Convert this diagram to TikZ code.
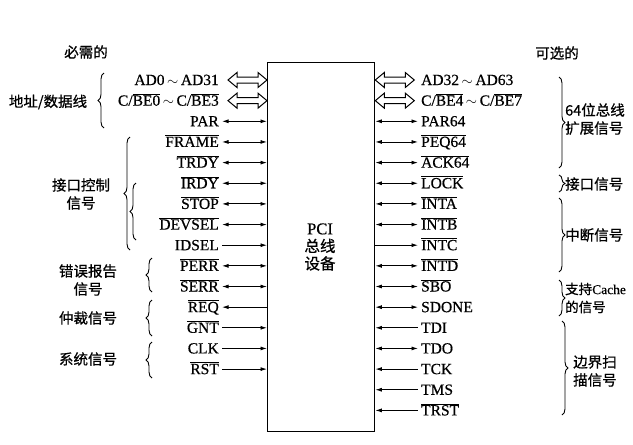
\documentclass[tikz,border=0pt]{standalone}
\usepackage{fontspec}
\setmainfont{Liberation Serif}
\newfontfamily\sigfont{Liberation Serif}[FakeBold=0.5]
\newfontfamily\cjk{Noto Sans CJK SC}[FakeBold=0.8]
\usetikzlibrary{arrows.meta,decorations.pathreplacing}
\newcommand{\ovl}[1]{$\overline{\hbox{#1}}$}
\newcommand{\tld}{\,$\sim$\,}
\newcommand{\harrow}[3]{%
  \draw[harr] #1 -- ++(9,-7.5) -- ++(0,4.5) -- ++(#2-18,0) -- ++(0,-4.5) -- ++(9,7.5)
    -- ++(-9,7.5) -- ++(0,-4.5) -- ++(-#2+18,0) -- ++(0,4.5) -- cycle;}
\begin{document}
\begin{tikzpicture}[x=1pt,y=-1pt,
  sig/.style={font=\sigfont\fontsize{15.5}{16}\selectfont, inner sep=0pt, text height=10pt, text depth=0pt},
  lsig/.style={sig, anchor=east},
  rsig/.style={sig, anchor=west},
  grp/.style={font=\cjk\fontsize{14.5}{18}\selectfont, align=center, inner sep=0pt},
  rgrp/.style={grp, align=left, anchor=west},
  conn/.style={line width=0.9pt},
  both/.style={conn, {Latex[length=6.5pt,width=4pt]}-{Latex[length=6.5pt,width=4pt]}},
  tobox/.style={conn, -{Latex[length=6.5pt,width=4pt]}},
  frombox/.style={conn, {Latex[length=6.5pt,width=4pt]}-},
  harr/.style={line width=1pt, fill=white, line join=miter},
  brc/.style={line width=0.9pt, decorate, decoration={brace, amplitude=6pt}},
]
\useasboundingbox (0,0) rectangle (633,445);
\fill[white] (0,0) rectangle (633,445);

% device box
\node[draw, line width=1.3pt, minimum width=107pt, minimum height=369pt, anchor=north west, inner sep=0pt] (box) at (267,62) {};
\node[grp, font=\fontsize{15.5}{17.5}\selectfont] (ct) at (320,247) {{\sigfont\fontsize{16.5}{17.5}\selectfont PCI}\\{\cjk 总线}\\{\cjk 设备}};

% headings
\node[grp] (hreq) at (86,52) {必需的};
\node[grp] (hopt) at (557,53) {可选的};

% left signals
\node[lsig] (L0) at (219,80) {AD0\tld AD31};
\node[lsig] (L1) at (219,100.65) {C/\ovl{BE0}\tld C/\ovl{BE3}};
\foreach \i/\t in {2/PAR, 3/\ovl{FRAME}, 4/\ovl{TRDY}, 5/\ovl{IRDY}, 6/\ovl{STOP},
  7/\ovl{DEVSEL}, 8/IDSEL, 9/\ovl{PERR}, 10/\ovl{SERR}, 11/\ovl{REQ}, 12/\ovl{GNT},
  13/CLK, 14/\ovl{RST}}
  \node[lsig] (L\i) at (219,80+20.65*\i) {\t};

% right signals
\node[rsig] (R0) at (421,80) {AD32\tld AD63};
\node[rsig] (R1) at (421,100.65) {C/\ovl{BE4}\tld C/\ovl{BE7}};
\foreach \i/\t in {2/PAR64, 3/\ovl{PEQ64}, 4/\ovl{ACK64}, 5/\ovl{LOCK}, 6/\ovl{INTA},
  7/\ovl{INTB}, 8/\ovl{INTC}, 9/\ovl{INTD}, 10/\ovl{SBO}, 11/SDONE, 12/TDI, 13/TDO,
  14/TCK, 15/TMS, 16/\ovl{TRST}}
  \node[rsig] (R\i) at (421,80+20.65*\i) {\t};

% hollow bus arrows
\harrow{([xshift=9pt]L0.east)}{39}{}
\harrow{([xshift=9pt]L1.east)}{39}{}
\harrow{(R0.west -| box.east)}{39}{}
\harrow{(R1.west -| box.east)}{39}{}

% left connectors
\foreach \i in {2,3,4,5,6,7,9,10}
  \draw[both] ([xshift=3pt]L\i.east) -- (L\i.east -| box.west);
\foreach \i in {8,12,13,14}
  \draw[tobox] ([xshift=3pt]L\i.east) -- (L\i.east -| box.west);
\foreach \i in {11}
  \draw[frombox] ([xshift=3pt]L\i.east) -- (L\i.east -| box.west);

% right connectors
\foreach \i in {2,3,4,5,6,7,9,10,11,13}
  \draw[both] (R\i.west -| box.east) -- ([xshift=-3pt]R\i.west);
\foreach \i in {12,14,15,16}
  \draw[frombox] (R\i.west -| box.east) -- ([xshift=-3pt]R\i.west);
\foreach \i in {8}
  \draw[tobox] (R\i.west -| box.east) -- ([xshift=-3pt]R\i.west);

% left braces and group labels
\draw[brc] (104,128) -- (104,73);
\node[grp] (g1) at (48,102) {地址/数据线};
\draw[brc] (130,250) -- (130,137);
\draw[brc] (136,240) -- (136,183);
\node[grp] (g2) at (81,194) {接口控制\\信号};
\draw[brc] (152,292) -- (152,258);
\node[grp] (g3) at (88,280) {错误报告\\信号};
\draw[brc] (152,336) -- (152,300);
\node[grp] (g4) at (88,318) {仲裁信号};
\draw[brc] (152,378) -- (152,342);
\node[grp] (g5) at (88,359) {系统信号};

% right braces and group labels
\draw[brc] (559,77) -- (559,168);
\node[rgrp] (h1) at (565,119) {64位总线\\扩展信号};
\draw[brc] (559,175) -- (559,192);
\node[rgrp] (h2) at (565,184) {接口信号};
\draw[brc] (559,198) -- (559,272);
\node[rgrp] (h3) at (565,235) {中断信号};
\draw[brc] (559,280) -- (559,316);
\node[rgrp, font=\cjk\fontsize{13.5}{18}\selectfont] (h4) at (565,298) {支持{\sigfont\fontsize{13.5}{18}\selectfont Cache}\\的信号};
\draw[brc] (562,321) -- (562,415);
\node[rgrp] (h5) at (573,371) {边界扫\\描信号};
\end{tikzpicture}
\end{document}
